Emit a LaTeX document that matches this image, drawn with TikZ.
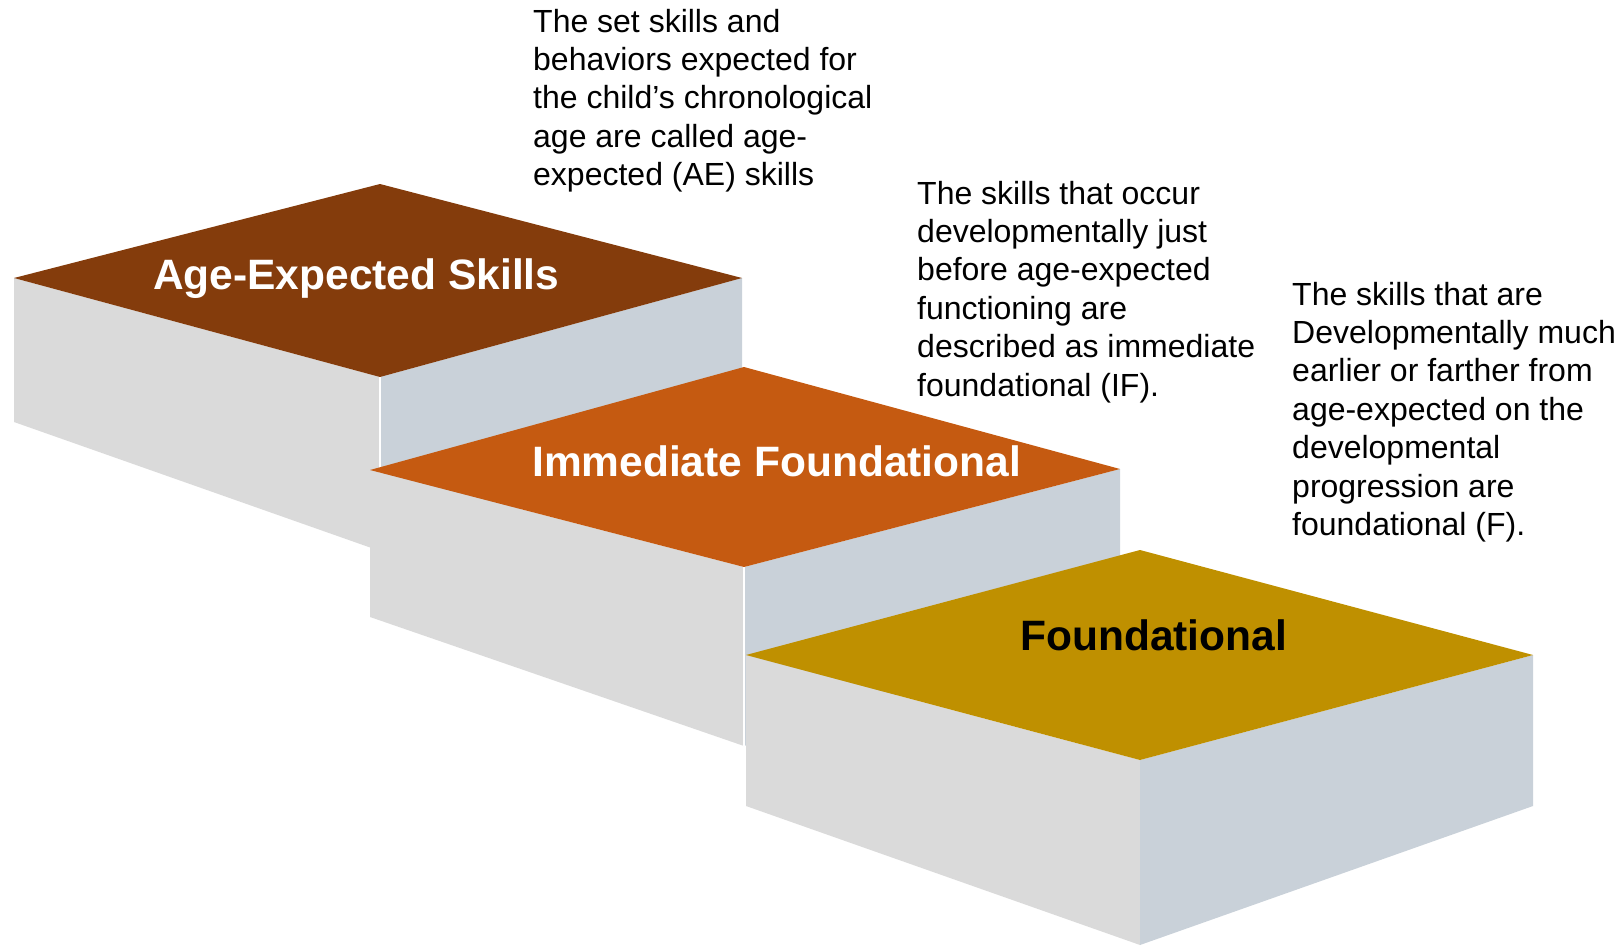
\documentclass[tikz,border=0pt]{standalone}
\usepackage{fontspec}
\setmainfont{Liberation Sans}
\definecolor{topA}{HTML}{843C0C}
\definecolor{topB}{HTML}{C55A11}
\definecolor{topC}{HTML}{BF9000}
\definecolor{faceL}{HTML}{DADADA}
\definecolor{faceR}{HTML}{C9D1D9}
\tikzset{
  leftface/.style={fill=faceL, draw=none},
  rightface/.style={fill=faceR, draw=none},
  edgeline/.style={draw=white, line width=1.2pt},
  desc/.style={anchor=base west, align=left, inner sep=0pt, font=\fontsize{32}{38.4}\selectfont},
  lbl/.style={anchor=base west, inner sep=0pt, font=\fontsize{42.5}{51}\selectfont\bfseries}
}
\begin{document}
\begin{tikzpicture}[x=1pt, y=-1pt]
\useasboundingbox (0,0) rectangle (1623,948);
% block 1
\coordinate (T1) at (380,184); \coordinate (L1) at (14,278); \coordinate (R1) at (742,278);
\coordinate (B1) at (380,377); \coordinate (LB1) at (14,422); \coordinate (FB1) at (380,551);
\coordinate (RB1) at (742,440);
% block 2
\coordinate (T2) at (744,367); \coordinate (L2) at (370,470); \coordinate (R2) at (1120,469);
\coordinate (B2) at (744,567); \coordinate (LB2) at (370,617); \coordinate (FB2) at (744,746);
\coordinate (RB2) at (1120,620);
% block 3
\coordinate (T3) at (1140,550); \coordinate (L3) at (746,655); \coordinate (R3) at (1533,655);
\coordinate (B3) at (1140,760); \coordinate (LB3) at (746,806); \coordinate (FB3) at (1140,945);
\coordinate (RB3) at (1533,806);

\fill[leftface] (L1) -- (B1) -- (FB1) -- (LB1) -- cycle;
\fill[rightface] (B1) -- (R1) -- (RB1) -- (FB1) -- cycle;
\draw[edgeline] (B1) -- (FB1);
\fill[topA] (T1) -- (R1) -- (B1) -- (L1) -- cycle;

\fill[leftface] (L2) -- (B2) -- (FB2) -- (LB2) -- cycle;
\fill[rightface] (B2) -- (R2) -- (RB2) -- (FB2) -- cycle;
\draw[edgeline] (B2) -- (FB2);
\fill[topB] (T2) -- (R2) -- (B2) -- (L2) -- cycle;

\fill[leftface] (L3) -- (B3) -- (FB3) -- (LB3) -- cycle;
\fill[rightface] (B3) -- (R3) -- (RB3) -- (FB3) -- cycle;
\fill[topC] (T3) -- (R3) -- (B3) -- (L3) -- cycle;

\node[lbl, text=white] (ae) at (153,289) {Age-Expected Skills};
\node[lbl, text=white] (if) at (532,476) {Immediate Foundational};
\node[lbl, text=black] (f) at (1020,650) {Foundational};

% anchor base = baseline of the last line
\node[desc] (dAE) at (533,185.6) {The set skills and\\behaviors expected for\\the child’s chronological\\age are called age-\\expected (AE) skills};
\node[desc] (dIF) at (917,396) {The skills that occur\\developmentally just\\before age-expected\\functioning are\\described as immediate\\foundational (IF).};
\node[desc] (dF) at (1292,535.4) {The skills that are\\Developmentally much\\earlier or farther from\\age-expected on the\\developmental\\progression are\\foundational (F).};
\end{tikzpicture}
\end{document}
